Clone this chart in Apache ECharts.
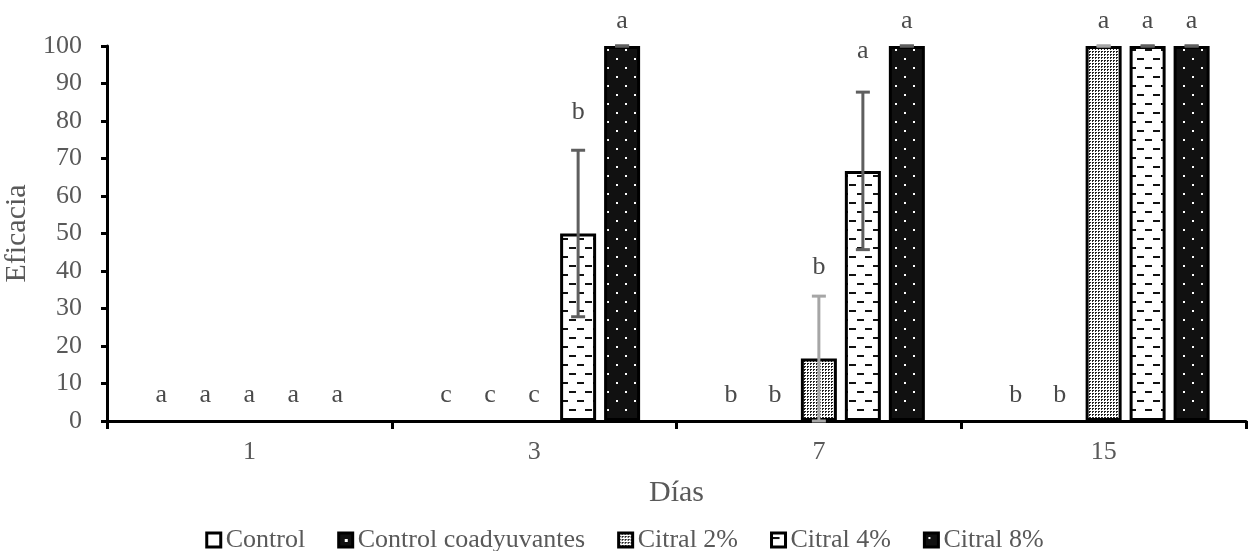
<!DOCTYPE html>
<html>
<head>
<meta charset="utf-8">
<script src="https://cdn.jsdelivr.net/npm/echarts@6.0.0/dist/echarts.min.js"></script>
<style>
  html, body { margin: 0; padding: 0; background: #fff; }
  #chart { width: 1249px; height: 551px; }
</style>
</head>
<body>
<div id="chart"></div>
<script>
// data
const dias = ['1', '3', '7', '15'];
const seriesNames = ['Control', 'Control coadyuvantes', 'Citral 2%', 'Citral 4%', 'Citral 8%'];

const control = [0, 0, 0, 0];
const controlCoad = [0, 0, 0, 0];
const citral2 = [0, 0, 16.7, 100];
const citral4 = [0, 50, 66.7, 100];
const citral8 = [0, 100, 100, 100];

// error bars (low / high), null = none
const errLow2 = [null, null, 0, 100];
const errHigh2 = [null, null, 33.3, 100];
const errLow4 = [null, 27.8, 45.7, 100];
const errHigh4 = [null, 72.2, 87.7, 100];
const errLow8 = [null, 100, 100, 100];
const errHigh8 = [null, 100, 100, 100];

// letras de significancia y su altura
const letters = [
  ['a', 'c', 'b', 'b'],
  ['a', 'c', 'b', 'b'],
  ['a', 'c', 'b', 'a'],
  ['a', 'b', 'a', 'a'],
  ['a', 'a', 'a', 'a']
];
const letterY = [
  [7, 7, 7, 7],
  [7, 7, 7, 7],
  [7, 7, 41, 106.7],
  [7, 82.4, 98.7, 106.7],
  [7, 106.7, 106.7, 106.7]
];

const BAR_W = 36, BAR_STEP = 44;
const FONT = '"Liberation Serif", "DejaVu Serif", serif';
const GREY = '#595959';

// patterns
function tile(w, h, bg, draw) {
  const c = document.createElement('canvas');
  c.width = w; c.height = h;
  const ctx = c.getContext('2d');
  ctx.fillStyle = bg;
  ctx.fillRect(0, 0, w, h);
  draw(ctx);
  return { image: c, repeat: 'repeat' };
}

const patCoad = tile(12, 12, '#111', ctx => {
  ctx.fillStyle = '#fff';
  ctx.fillRect(6, 6, 3, 3);
});
const pat2 = tile(3, 3, '#fff', ctx => {
  ctx.fillStyle = '#222';
  ctx.fillRect(0, 0, 2, 1);
  ctx.fillRect(0, 1, 1, 1);
});
const pat4 = tile(16, 18, '#fff', ctx => {
  ctx.fillStyle = '#111';
  ctx.fillRect(1, 4, 7, 2);
  ctx.fillRect(9, 13, 7, 2);
});
const pat8 = tile(18, 18, '#111', ctx => {
  ctx.fillStyle = '#fff';
  ctx.fillRect(4, 4, 2, 2);
  ctx.fillRect(13, 13, 2, 2);
});

const fills = ['#fff', patCoad, pat2, pat4, pat8];
const values = [control, controlCoad, citral2, citral4, citral8];

const barSeries = seriesNames.map((name, i) => ({
  name: name,
  type: 'bar',
  // barras en cero no se dibujan (como en Excel)
  data: values[i].map(v => v === 0
    ? { value: v, itemStyle: { color: 'rgba(0,0,0,0)', borderWidth: 0 } }
    : v),
  barWidth: BAR_W,
  barGap: '22.2%',
  itemStyle: { color: fills[i], borderColor: '#000', borderWidth: 3 },
  emphasis: { disabled: true }
}));

// error bar data
const errData = [];
[[2, errLow2, errHigh2], [3, errLow4, errHigh4], [4, errLow8, errHigh8]].forEach(([s, lo, hi]) => {
  for (let c = 0; c < dias.length; c++) {
    if (lo[c] != null) errData.push([c, s, lo[c], hi[c]]);
  }
});

const letterData = [];
for (let s = 0; s < seriesNames.length; s++) {
  for (let c = 0; c < dias.length; c++) letterData.push([c, s, letterY[s][c]]);
}

const chart = echarts.init(document.getElementById('chart'));

chart.setOption({
  animation: false,
  grid: { left: 107, right: 3, top: 46, bottom: 130, outerBoundsMode: 'none', containLabel: false },
  legend: {
    data: seriesNames,
    left: 'center',
    top: 522,
    itemWidth: 14,
    itemHeight: 14,
    itemGap: 32,
    icon: 'rect',
    itemStyle: { borderColor: '#000', borderWidth: 3 },
    textStyle: { fontFamily: FONT, fontSize: 26, color: GREY }
  },
  xAxis: {
    type: 'category',
    data: dias,
    name: 'Días',
    nameLocation: 'middle',
    nameGap: 57,
    nameTextStyle: { fontFamily: FONT, fontSize: 30, color: GREY },
    axisLine: { lineStyle: { color: '#000', width: 3 } },
    axisTick: { show: true, length: 8, lineStyle: { color: '#000', width: 3 } },
    axisLabel: { fontFamily: FONT, fontSize: 26, color: GREY, margin: 18 }
  },
  yAxis: {
    type: 'value',
    min: 0,
    max: 100,
    interval: 10,
    name: 'Eficacia',
    nameLocation: 'middle',
    nameGap: 65,
    nameTextStyle: { fontFamily: FONT, fontSize: 30, color: GREY },
    splitLine: { show: false },
    axisLine: { show: true, lineStyle: { color: '#000', width: 3 } },
    axisTick: { show: true, length: 6, lineStyle: { color: '#000', width: 3 } },
    axisLabel: { fontFamily: FONT, fontSize: 26, color: GREY, margin: 25 }
  },
  series: barSeries.concat([
    {
      type: 'custom',
      name: 'err',
      data: errData,
      z: 5,
      clip: false,
      silent: true,
      renderItem: function (params, api) {
        const c = api.value(0), s = api.value(1);
        const lo = api.coord([c, api.value(2)]);
        const hi = api.coord([c, api.value(3)]);
        const x = lo[0] + (s - 2) * BAR_STEP;
        const col = (s === 2) ? '#a6a6a6' : '#5f5f5f';
        const st = { stroke: col, lineWidth: 3 };
        return {
          type: 'group',
          children: [
            { type: 'line', shape: { x1: x, y1: hi[1], x2: x, y2: lo[1] }, style: st },
            { type: 'line', shape: { x1: x - 7, y1: hi[1], x2: x + 7, y2: hi[1] }, style: st },
            { type: 'line', shape: { x1: x - 7, y1: lo[1], x2: x + 7, y2: lo[1] }, style: st }
          ]
        };
      }
    },
    {
      type: 'custom',
      name: 'letras',
      data: letterData,
      z: 6,
      clip: false,
      silent: true,
      renderItem: function (params, api) {
        const c = api.value(0), s = api.value(1);
        const p = api.coord([c, api.value(2)]);
        return {
          type: 'text',
          x: p[0] + (s - 2) * BAR_STEP,
          y: p[1],
          style: {
            text: letters[s][c],
            font: '26px ' + FONT,
            fill: '#4a4a4a',
            align: 'center',
            verticalAlign: 'middle'
          }
        };
      }
    }
  ])
});
</script>
</body>
</html>
